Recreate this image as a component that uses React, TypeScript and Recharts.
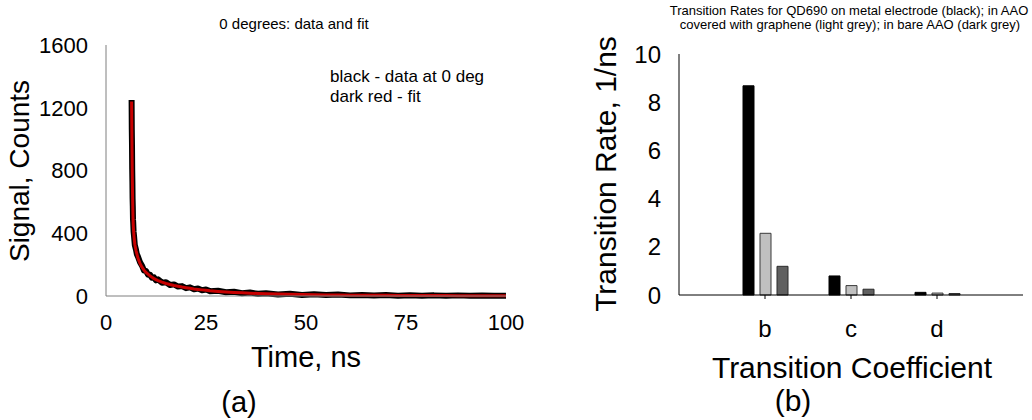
import React from "react";
import {
  Bar,
  BarChart,
  Line,
  LineChart,
  XAxis,
  YAxis,
} from "recharts";

// ── panel (a): decay trace at 0 degrees, measured vs fit ────────────────────
const timeNs = [
  6.4, 6.45, 6.5, 6.55, 6.6, 6.65, 6.7, 6.75, 6.8, 6.9, 7.0, 7.2, 7.5, 7.7, 8.0,
  8.5, 9.0, 9.5, 10, 10.5, 11, 11.5, 12, 12.5, 13, 14, 15, 16, 17, 18, 19, 20,
  21, 22, 23, 24, 25, 26, 28, 30, 32, 34, 36, 38, 40, 43, 46, 49, 52, 55, 58,
  61, 64, 67, 70, 73, 76, 79, 82, 85, 88, 91, 94, 97, 100,
];
const measuredCounts = [
  1250, 1060, 960, 810, 730, 620, 570, 490, 470, 410, 385, 325, 295, 268, 250,
  215, 193, 162, 160, 136, 136, 116, 119, 100, 106, 85, 88, 70, 74, 60, 63, 50,
  55, 43, 48, 37, 41, 31, 33, 24, 27, 18, 22, 14, 18, 10, 14, 7, 11, 6, 9, 4,
  7, 3, 6, 2, 5, 2, 4, 1, 4, 1, 3, 1, 2,
];
const fitCounts = [
  1240, 1080, 940, 820, 720, 630, 560, 500, 460, 415, 380, 330, 290, 270, 240,
  208, 184, 165, 150, 139, 128, 119, 111, 104, 98, 88, 80, 73, 67, 62, 57, 53,
  49, 45, 42, 39, 36, 33, 29, 26, 23, 20, 18, 16, 14, 12, 10.5, 9, 8, 7, 6.2,
  5.5, 5, 4.5, 4, 3.6, 3.3, 3, 2.7, 2.5, 2.3, 2.1, 1.9, 1.8, 1.6,
];
const timeTicks = [0, 25, 50, 75, 100];
const signalTicks = [0, 400, 800, 1200, 1600];

// ── panel (b): transition rates per coefficient ────────────────────────────
const coefficients = ["b", "c", "d"];
const metalRates = [8.68, 0.79, 0.11]; // black
const grapheneRates = [2.56, 0.39, 0.08]; // light grey
const bareAaoRates = [1.19, 0.24, 0.06]; // dark grey
const rateTicks = [0, 2, 4, 6, 8, 10];

const FONT = "'Liberation Sans', Arial, Helvetica, sans-serif";
const FRAME_A = "#7f7f7f";

const decayRows = timeNs.map((t, i) => ({
  t,
  data: measuredCounts[i],
  fit: fitCounts[i],
}));

const rateRows = coefficients.map((c, i) => ({
  c,
  metal: metalRates[i],
  graphene: grapheneRates[i],
  bare: bareAaoRates[i],
}));

function DecayChart() {
  return (
    <LineChart
      width={530}
      height={420}
      data={decayRows}
      margin={{ top: 45, right: 24, bottom: 94, left: 0 }}
      style={{ fontFamily: FONT }}
    >
      <XAxis
        dataKey="t"
        type="number"
        domain={[0, 100]}
        ticks={timeTicks}
        height={30}
        tickLine={false}
        tickSize={0}
        tickMargin={18}
        axisLine={{ stroke: FRAME_A }}
        tick={{ fontSize: 22, fill: "#000" }}
      />
      {/* top + right frame */}
      <XAxis
        xAxisId="top"
        orientation="top"
        dataKey="t"
        type="number"
        domain={[0, 100]}
        height={0}
        tick={false}
        tickLine={false}
        axisLine={{ stroke: FRAME_A }}
      />
      <YAxis
        domain={[0, 1600]}
        ticks={signalTicks}
        width={106}
        tickLine={false}
        tickSize={0}
        tickMargin={18}
        axisLine={{ stroke: FRAME_A }}
        tick={{ fontSize: 22, fill: "#000" }}
      />
      <YAxis
        yAxisId="right"
        orientation="right"
        domain={[0, 1600]}
        width={0}
        tick={false}
        tickLine={false}
        axisLine={{ stroke: FRAME_A }}
      />
      <Line
        dataKey="data"
        type="linear"
        stroke="#000"
        strokeWidth={6}
        strokeLinejoin="round"
        dot={false}
        isAnimationActive={false}
      />
      <Line
        dataKey="fit"
        type="linear"
        stroke="#c80000"
        strokeWidth={3}
        dot={false}
        isAnimationActive={false}
      />
    </LineChart>
  );
}

function RatesChart() {
  return (
    <BarChart
      width={502}
      height={420}
      data={rateRows}
      margin={{ top: 54, right: 9, bottom: 95, left: 0 }}
      barSize={11}
      barGap={6}
      style={{ fontFamily: FONT }}
    >
      <XAxis
        dataKey="c"
        height={30}
        padding={{ left: 43, right: 43 }}
        tickSize={4}
        tickMargin={21}
        tickLine={{ stroke: "#000" }}
        axisLine={{ stroke: "#000" }}
        tick={{ fontSize: 24, fill: "#000" }}
      />
      <XAxis
        xAxisId="top"
        orientation="top"
        dataKey="c"
        height={0}
        tick={false}
        tickLine={false}
        axisLine={{ stroke: "#000" }}
      />
      <YAxis
        domain={[0, 10]}
        ticks={rateTicks}
        width={149}
        tickLine={false}
        tickSize={0}
        tickMargin={18}
        axisLine={{ stroke: "#000" }}
        tick={{ fontSize: 24, fill: "#000" }}
      />
      <YAxis
        yAxisId="right"
        orientation="right"
        domain={[0, 10]}
        width={0}
        tick={false}
        tickLine={false}
        axisLine={{ stroke: "#000" }}
      />
      <Bar dataKey="metal" fill="#000" stroke="#000" isAnimationActive={false} />
      <Bar dataKey="graphene" fill="#c0c0c0" stroke="#3a3a3a" isAnimationActive={false} />
      <Bar dataKey="bare" fill="#606060" stroke="#2a2a2a" isAnimationActive={false} />
    </BarChart>
  );
}

export default function App() {
  return (
    <div
      style={{
        position: "absolute",
        left: 0,
        top: 0,
        width: 1032,
        height: 420,
        background: "#fff",
        overflow: "hidden",
      }}
    >
      <div style={{ position: "absolute", left: 0, top: 0 }}>
        <DecayChart />
      </div>
      <div style={{ position: "absolute", left: 530, top: 0 }}>
        <RatesChart />
      </div>
      {/* titles, axis names and panel letters */}
      <svg
        width={1032}
        height={420}
        style={{ position: "absolute", left: 0, top: 0, pointerEvents: "none" }}
        fontFamily={FONT}
        fill="#000"
      >
        <text x={294} y={29} fontSize={15} textAnchor="middle">
          0 degrees: data and fit
        </text>
        <text x={330} y={82} fontSize={17}>
          black - data at 0 deg
        </text>
        <text x={330} y={102} fontSize={17}>
          dark red - fit
        </text>
        <text
          x={29}
          y={171}
          fontSize={28}
          textAnchor="middle"
          transform="rotate(-90 29 171)"
        >
          Signal, Counts
        </text>
        <text x={306} y={367} fontSize={29} textAnchor="middle">
          Time, ns
        </text>
        <text x={239} y={412} fontSize={29} textAnchor="middle">
          (a)
        </text>

        <text x={849} y={15} fontSize={13} textAnchor="middle">
          Transition Rates for QD690 on metal electrode (black); in AAO
        </text>
        <text x={850} y={29} fontSize={13} textAnchor="middle">
          covered with graphene (light grey); in bare AAO (dark grey)
        </text>
        <text
          x={616}
          y={174}
          fontSize={30}
          textAnchor="middle"
          transform="rotate(-90 616 174)"
        >
          Transition Rate, 1/ns
        </text>
        <text x={852} y={378} fontSize={30} textAnchor="middle">
          Transition Coefficient
        </text>
        <text x={793} y={411} fontSize={30} textAnchor="middle">
          (b)
        </text>
      </svg>
    </div>
  );
}
